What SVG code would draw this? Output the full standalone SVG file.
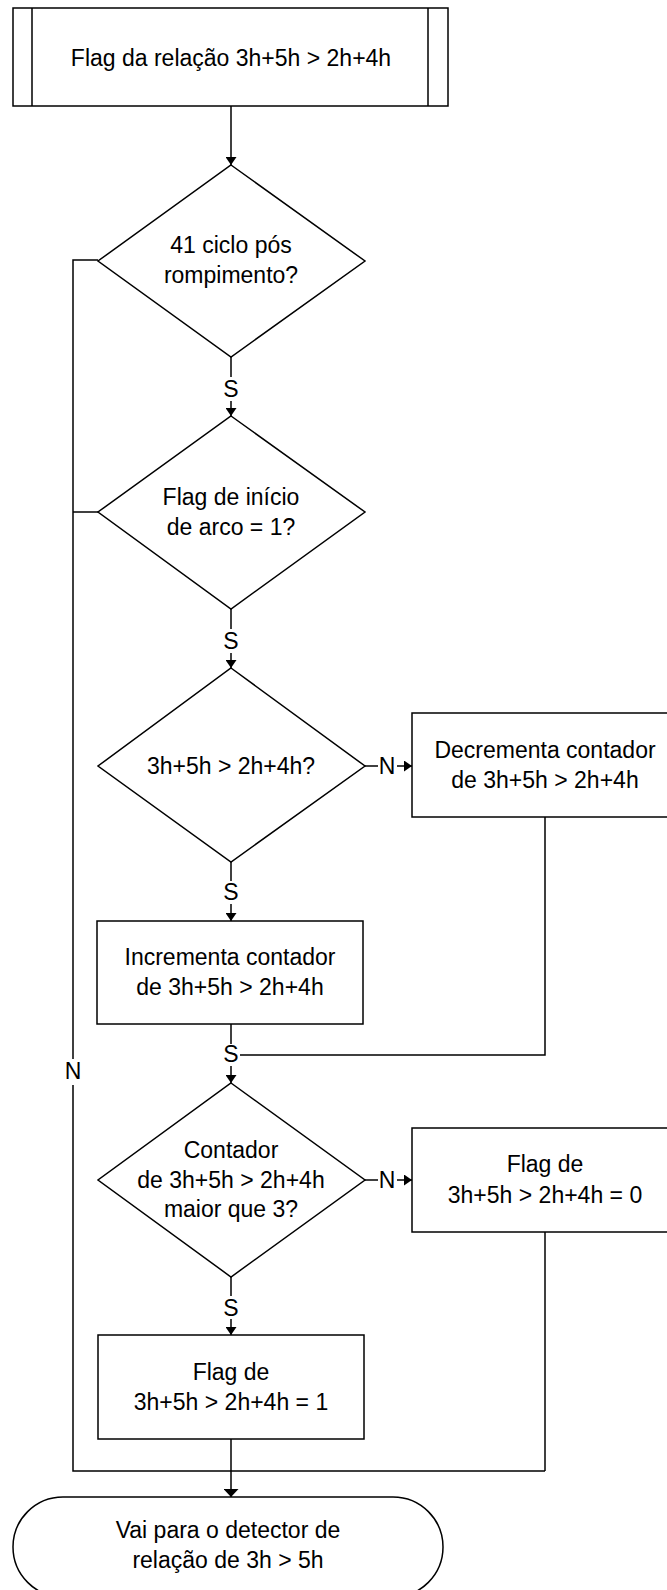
<svg xmlns="http://www.w3.org/2000/svg" width="667" height="1590" viewBox="0 0 667 1590">
<style>
.s{fill:#fff;stroke:#000;stroke-width:1.5}
.c{fill:none;stroke:#000;stroke-width:1.5}
.t{font-family:"Liberation Sans",Arial,sans-serif;font-size:23px;fill:#000;text-anchor:middle}
</style>
<defs>
<marker id="a" viewBox="0 0 10 10" refX="10" refY="5" markerUnits="userSpaceOnUse" markerWidth="8" markerHeight="11" orient="auto" preserveAspectRatio="none"><path d="M0,0L10,5L0,10z" fill="#000"/></marker>
<marker id="b" viewBox="0 0 10 10" refX="10" refY="5" markerUnits="userSpaceOnUse" markerWidth="8" markerHeight="15" orient="auto" preserveAspectRatio="none"><path d="M0,0L10,5L0,10z" fill="#000"/></marker>
</defs>
<g id="connectors">
<path class="c" d="M231,106V165" marker-end="url(#a)"/>
<path class="c" d="M231,357V377"/><path class="c" d="M231,401V416" marker-end="url(#a)"/>
<path class="c" d="M98,260H73V1059"/>
<path class="c" d="M73,1085V1471H545"/>
<path class="c" d="M98,512H73"/>
<path class="c" d="M231,609V629"/><path class="c" d="M231,653V668" marker-end="url(#a)"/>
<path class="c" d="M365,766H378"/><path class="c" d="M397,766H412" marker-end="url(#a)"/>
<path class="c" d="M231,862V881"/><path class="c" d="M231,904V921" marker-end="url(#a)"/>
<path class="c" d="M545,817V1055H240"/>
<path class="c" d="M231,1024V1044"/><path class="c" d="M231,1066V1083" marker-end="url(#a)"/>
<path class="c" d="M365,1180H378"/><path class="c" d="M397,1180H412" marker-end="url(#a)"/>
<path class="c" d="M231,1277V1296"/><path class="c" d="M231,1319V1335" marker-end="url(#a)"/>
<path class="c" d="M545,1232V1471"/>
<path class="c" d="M231,1439V1471"/>
<path class="c" d="M231,1471V1497" stroke-width="2.5" marker-end="url(#b)"/>
<text class="t" x="231" y="397">S</text>
<text class="t" x="231" y="649">S</text>
<text class="t" x="231" y="900">S</text>
<text class="t" x="231" y="1062">S</text>
<text class="t" x="231" y="1316">S</text>
<text class="t" x="387" y="774">N</text>
<text class="t" x="387" y="1188">N</text>
<text class="t" x="73" y="1079">N</text>
</g>
<g id="start">
<rect class="s" x="13" y="8" width="435" height="98"/>
<path class="c" d="M32,8V106M428,8V106"/>
<text class="t" x="231" y="66">Flag da relação 3h+5h &gt; 2h+4h</text>
</g>
<g id="d1">
<path class="s" d="M231,165L365,261L231,357L98,261z"/>
<text class="t" x="231" y="253">41 ciclo pós</text>
<text class="t" x="231" y="283">rompimento?</text>
</g>
<g id="d2">
<path class="s" d="M231,416L365,512L231,609L98,512z"/>
<text class="t" x="231" y="505">Flag de início</text>
<text class="t" x="231" y="535">de arco = 1?</text>
</g>
<g id="d3">
<path class="s" d="M231,668L365,766L231,862L98,766z"/>
<text class="t" x="231" y="774">3h+5h &gt; 2h+4h?</text>
</g>
<g id="dec">
<rect class="s" x="412" y="713" width="267" height="104"/>
<text class="t" x="545" y="758">Decrementa contador</text>
<text class="t" x="545" y="788">de 3h+5h &gt; 2h+4h</text>
</g>
<g id="inc">
<rect class="s" x="97" y="921" width="266" height="103"/>
<text class="t" x="230" y="965">Incrementa contador</text>
<text class="t" x="230" y="995">de 3h+5h &gt; 2h+4h</text>
</g>
<g id="d4">
<path class="s" d="M231,1083L365,1180L231,1277L98,1180z"/>
<text class="t" x="231" y="1158">Contador</text>
<text class="t" x="231" y="1188">de 3h+5h &gt; 2h+4h</text>
<text class="t" x="231" y="1217">maior que 3?</text>
</g>
<g id="flag0">
<rect class="s" x="412" y="1128" width="267" height="104"/>
<text class="t" x="545" y="1172">Flag de</text>
<text class="t" x="545" y="1203">3h+5h &gt; 2h+4h = 0</text>
</g>
<g id="flag1">
<rect class="s" x="98" y="1335" width="266" height="104"/>
<text class="t" x="231" y="1380">Flag de</text>
<text class="t" x="231" y="1410">3h+5h &gt; 2h+4h = 1</text>
</g>
<g id="end">
<rect class="s" x="13" y="1497" width="430" height="100" rx="50" ry="50"/>
<text class="t" x="228" y="1538">Vai para o detector de</text>
<text class="t" x="228" y="1568">relação de 3h &gt; 5h</text>
</g>
</svg>
